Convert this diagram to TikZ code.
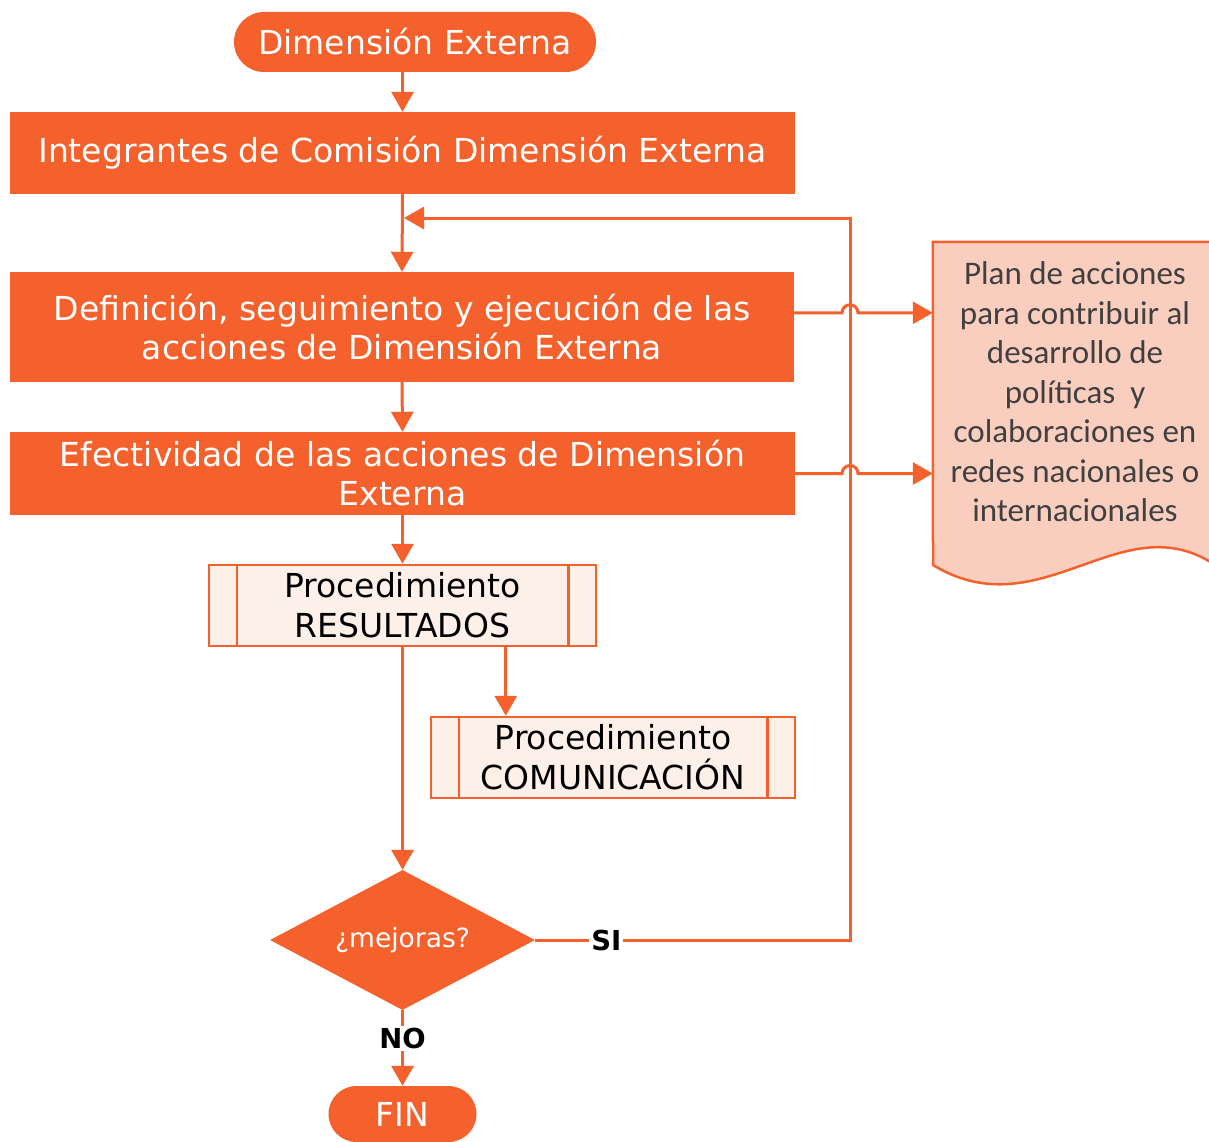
\documentclass[tikz,border=0pt]{standalone}
\usepackage{fontspec}
\setmainfont{DejaVu Sans}
\newfontfamily\calib{Carlito}
\usetikzlibrary{shapes.geometric,shapes.misc,arrows.meta,calc}
\definecolor{orng}{RGB}{245,97,45}
\definecolor{pale}{RGB}{253,240,233}
\definecolor{docfill}{RGB}{250,206,190}
\definecolor{doctext}{RGB}{64,64,64}
\begin{document}
\begin{tikzpicture}[x=1pt,y=-1pt,
 every node/.style={inner sep=0pt},
 term/.style={rounded rectangle, fill=orng, text=white, font=\fontsize{33}{39}\selectfont},
 stepbox/.style={rectangle, fill=orng, text=white, align=center, font=\fontsize{33}{39}\selectfont},
 predef/.style={rectangle, draw=orng, line width=2.5pt, fill=pale, align=center, font=\fontsize{33}{40}\selectfont},
 predefline/.style={draw=orng, line width=2.5pt},
 dec/.style={diamond, shape aspect=2, fill=orng, text=white, font=\fontsize{26.5}{30}\selectfont},
 conn/.style={draw=orng, line width=3pt},
 arr/.style={conn, -{Triangle[length=20pt,width=22pt]}},
 lab/.style={fill=white, font=\bfseries\fontsize{27.5}{30}\selectfont, inner sep=2pt}
]
\useasboundingbox (0,0) rectangle (1209,1142);
\fill[white] (0,0) rectangle (1209,1142);

% nodes
\node[term, minimum width=362pt, minimum height=60pt] (top) at (415,42) {Dimensión Externa};
\node[stepbox, minimum width=785pt, minimum height=82pt] (integ) at (402.5,153) {Integrantes de Comisión Dimensión Externa};
\node[stepbox, minimum width=784pt, minimum height=110pt] (def) at (402,327) {Definición, seguimiento y ejecución de las\\acciones de Dimensión Externa};
\node[stepbox, minimum width=785pt, minimum height=83pt] (efe) at (402.5,473.5) {Efectividad de las acciones de Dimensión\\Externa};
\node[predef, minimum width=387pt, minimum height=81pt] (res) at (402.5,605.5) {Procedimiento\\RESULTADOS};
\draw[predefline] ($(res.north west)+(29,0)$) -- ($(res.south west)+(29,0)$);
\draw[predefline] ($(res.north east)+(-29,0)$) -- ($(res.south east)+(-29,0)$);
\node[predef, minimum width=364pt, minimum height=81pt] (com) at (613,757.5) {Procedimiento\\COMUNICACIÓN};
\draw[predefline] ($(com.north west)+(29,0)$) -- ($(com.south west)+(29,0)$);
\draw[predefline] ($(com.north east)+(-29,0)$) -- ($(com.south east)+(-29,0)$);
\node[dec, minimum width=265pt, minimum height=140pt] (dia) at (402.5,940) {¿mejoras?};
\node[term, minimum width=148pt, minimum height=56pt] (fin) at (402.5,1114) {FIN};

% document
\node[minimum width=279pt, minimum height=323pt] (doc) at (1072.5,403.5) {};
\draw[draw=orng, fill=docfill, line width=2.5pt] (doc.north west) -- (doc.north east) -- (1212,563) .. controls (1120,505) and (1040,630) .. (933,565) -- cycle;
\node[font=\calib\fontsize{33}{39.5}\selectfont, text=doctext, align=center] (doct) at (1075,392) {Plan de acciones\\para contribuir al\\desarrollo de\\políticas~ y\\colaboraciones en\\redes nacionales o\\internacionales};

% connectors
\coordinate (siT) at (850,940);
\coordinate (fbT) at (850,218);
\coordinate (fbE) at (404,218);
\draw[arr] (integ.north |- top.south) -- (integ.north);
\draw[arr] (integ.south) -- (def.north);
\draw[arr] (def.south) -- (efe.north);
\draw[arr] (efe.south) -- (res.north);
\draw[arr] (res.south) -- (dia.north);
\coordinate (rc) at ($(res.south west)+(298,0)$);
\draw[arr] (rc) -- (rc |- com.north);
\draw[arr] (dia.east) -- node[lab,pos=0.226]{SI} (siT) -- (fbT) -- (fbE);
\draw[arr] (dia.south) -- node[lab,pos=0.37]{NO} (fin.north);

\coordinate (d1) at ($(def.north east)+(0,41)$);
\coordinate (d2) at (efe.east);
\draw[arr] (d1) -- ($(d1 -| fbT)+(-8,0)$) arc[start angle=180,end angle=0,radius=8pt] -- (d1 -| doc.west);
\draw[arr] (d2) -- ($(d2 -| fbT)+(-8,0)$) arc[start angle=180,end angle=0,radius=8pt] -- (d2 -| doc.west);
\end{tikzpicture}
\end{document}
